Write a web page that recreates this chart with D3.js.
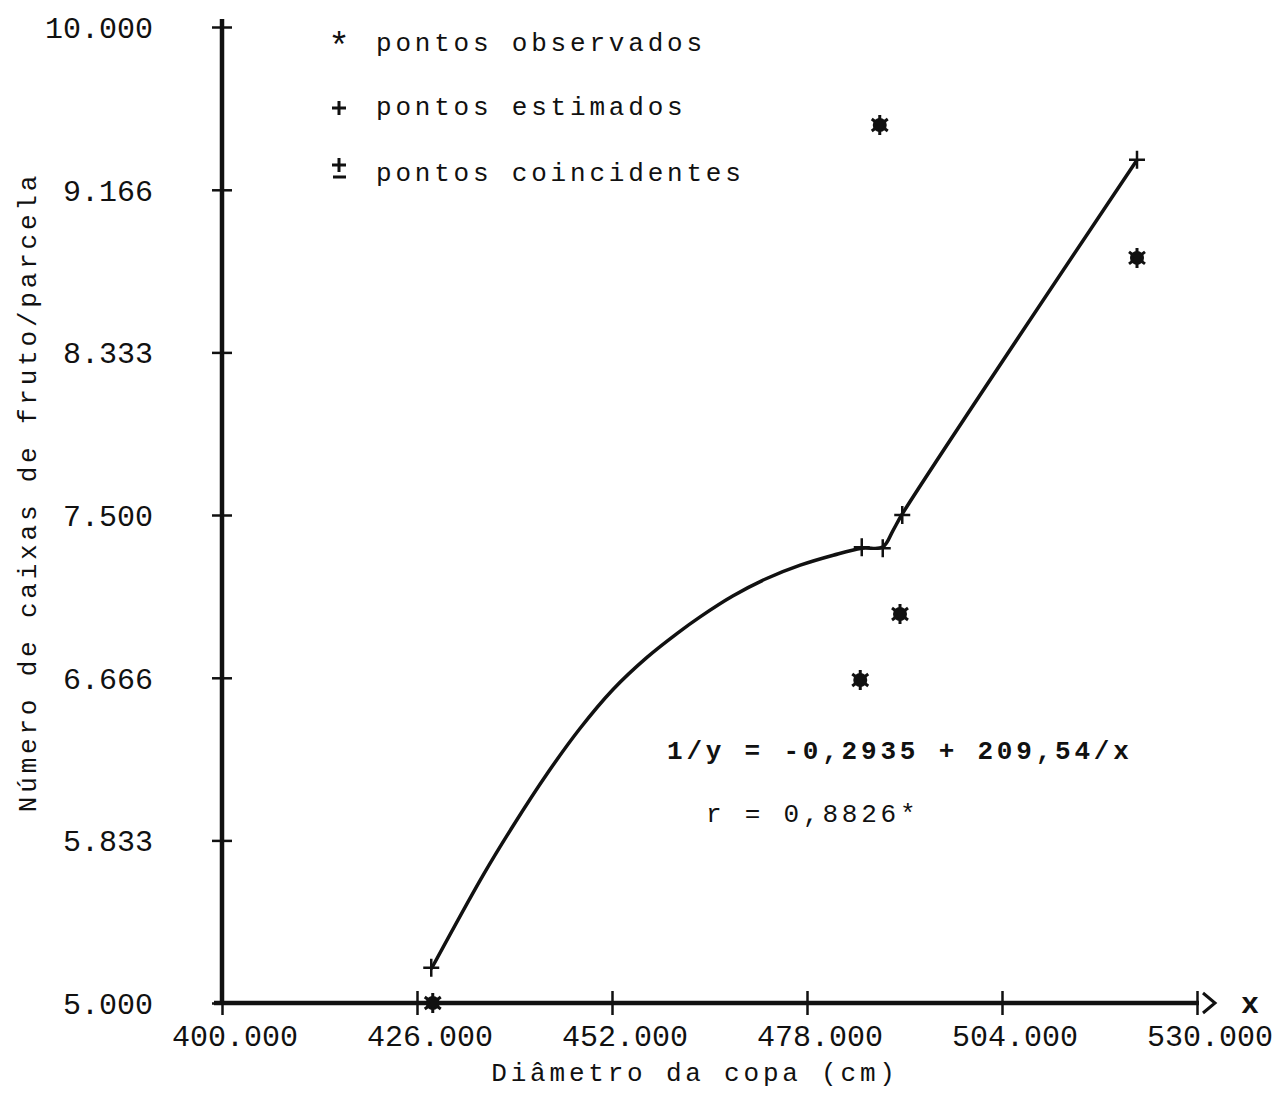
<!DOCTYPE html>
<html>
<head>
<meta charset="utf-8">
<script src="https://cdn.jsdelivr.net/npm/d3@7"></script>
<style>
  body { margin: 0; background: #fff; }
  text { fill: #111; }
  .tick-label { font-family: "Liberation Mono", monospace; font-size: 30px; }
  .type { font-family: "Liberation Mono", monospace; font-size: 26px; letter-spacing: 3.8px; }
</style>
</head>
<body>
<div id="chart"></div>
<script>
// tick values / labels
var xTicks = [400, 426, 452, 478, 504, 530];
var xTickLabels = ["400.000", "426.000", "452.000", "478.000", "504.000", "530.000"];
var yTicks = [5.000, 5.833, 6.666, 7.500, 8.333, 9.166, 10.000];
var yTickLabels = ["5.000", "5.833", "6.666", "7.500", "8.333", "9.166", "10.000"];

// pontos observados (*)
var obsX = [428.1, 485.1, 487.7, 490.4, 522.0];
var obsY = [5.000, 6.655, 9.498, 6.993, 8.817];

// pontos estimados (+)
var estX = [427.9, 485.3, 488.1, 490.7, 522.0];
var estY = [5.18, 7.335, 7.330, 7.500, 9.32];

// curve as drawn
var curveX = [427.9, 434.8, 438.8, 443.3, 447.7, 452.1, 456.7, 460.7, 463.7, 468.1, 472.7, 477.1, 481.5, 485.3, 488.1, 489.5, 490.7, 522.0];
var curveY = [5.174, 5.654, 5.907, 6.172, 6.405, 6.605, 6.772, 6.894, 6.977, 7.085, 7.176, 7.243, 7.294, 7.330, 7.336, 7.423, 7.505, 9.319];

var svgWidth = 1283;
var svgHeight = 1093;

var svg = d3.select("#chart")
  .append("svg")
  .attr("width", svgWidth)
  .attr("height", svgHeight);

var xScale = d3.scaleLinear().domain([400, 530]).range([222, 1197]);
var yScale = d3.scaleLinear().domain([5, 10]).range([1003, 27]);

// y axis
var yAxis = svg.append("g")
  .attr("transform", "translate(" + xScale(400) + ",0)")
  .call(d3.axisLeft(yScale).tickValues(yTicks).tickSize(0).tickFormat(""));
yAxis.select(".domain").attr("stroke", "#111").attr("stroke-width", 4.5)
  .attr("d", "M0," + (yScale(10) - 8) + "V" + yScale(5));

yAxis.selectAll(".tick").append("line")
  .attr("x1", -10).attr("x2", 10)
  .attr("stroke", "#111").attr("stroke-width", 2.5);

svg.append("g").selectAll("text")
  .data(yTicks)
  .enter()
  .append("text")
  .attr("class", "tick-label")
  .attr("x", 153)
  .attr("y", d => yScale(d))
  .attr("dy", "0.36em")
  .attr("text-anchor", "end")
  .text((d, i) => yTickLabels[i]);

// x axis
var xAxis = svg.append("g")
  .attr("transform", "translate(0," + yScale(5) + ")")
  .call(d3.axisBottom(xScale).tickValues(xTicks).tickSize(0).tickFormat(""));
xAxis.select(".domain").attr("stroke", "#111").attr("stroke-width", 4.5)
  .attr("d", "M" + (xScale(400) - 8) + ",0H" + (xScale(530) + 2));

xAxis.selectAll(".tick").append("line")
  .attr("y1", -12).attr("y2", 12)
  .attr("stroke", "#111").attr("stroke-width", 2.5);

// arrow head + "x"
svg.append("path")
  .attr("d", "M" + (xScale(530) + 6) + "," + (yScale(5) - 10) + "L" + (xScale(530) + 18) + "," + yScale(5) + "L" + (xScale(530) + 6) + "," + (yScale(5) + 10))
  .attr("fill", "none").attr("stroke", "#111").attr("stroke-width", 3);
svg.append("text")
  .attr("class", "tick-label")
  .attr("x", 1250).attr("y", yScale(5) + 10)
  .attr("text-anchor", "middle")
  .style("font-weight", "bold")
  .text("x");

svg.append("g").selectAll("text")
  .data(xTicks)
  .enter()
  .append("text")
  .attr("class", "tick-label")
  .attr("x", d => xScale(d) + 13)
  .attr("y", 1046)
  .attr("text-anchor", "middle")
  .text((d, i) => xTickLabels[i]);

// axis titles
svg.append("text")
  .attr("class", "type")
  .attr("x", 695).attr("y", 1081)
  .attr("text-anchor", "middle")
  .text("Diâmetro da copa (cm)");

svg.append("text")
  .attr("class", "type")
  .attr("transform", "translate(36,492) rotate(-90)")
  .attr("text-anchor", "middle")
  .text("Número de caixas de fruto/parcela");

// fitted curve
var line = d3.line()
  .x(d => xScale(d[0]))
  .y(d => yScale(d[1]))
  .curve(d3.curveCatmullRom.alpha(0.5));

svg.append("path")
  .datum(curveX.map((x, i) => [x, curveY[i]]))
  .attr("d", line)
  .attr("fill", "none")
  .attr("stroke", "#111")
  .attr("stroke-width", 3.5);

// estimated points (+)
svg.append("g").selectAll("path")
  .data(estX.map((x, i) => [x, estY[i]]))
  .enter()
  .append("path")
  .attr("transform", d => "translate(" + xScale(d[0]) + "," + yScale(d[1]) + ")")
  .attr("d", "M-8,0H8M0,-9V9")
  .attr("stroke", "#111")
  .attr("stroke-width", 2.5);

// observed points (*)
var obs = svg.append("g").selectAll("g")
  .data(obsX.map((x, i) => [x, obsY[i]]))
  .enter()
  .append("g")
  .attr("transform", d => "translate(" + xScale(d[0]) + "," + yScale(d[1]) + ")");
obs.append("circle").attr("r", 7).attr("fill", "#111");
obs.append("path")
  .attr("d", "M0,-10V10M-8,-6L8,6M-8,6L8,-6")
  .attr("stroke", "#111").attr("stroke-width", 3);

// legend
var legendText = ["pontos observados", "pontos estimados", "pontos coincidentes"];
var legendY = [42, 106, 172];

svg.append("g").selectAll("text")
  .data(legendText)
  .enter()
  .append("text")
  .attr("class", "type")
  .attr("x", 376)
  .attr("y", (d, i) => legendY[i])
  .attr("dy", "0.35em")
  .text(d => d);

svg.append("text")
  .attr("class", "type")
  .attr("x", 339).attr("y", legendY[0] + 16)
  .attr("text-anchor", "middle")
  .style("font-size", "36px")
  .style("letter-spacing", "0px")
  .text("*");
svg.append("path")
  .attr("d", "M332," + (legendY[1] + 2) + "H346M339," + (legendY[1] - 5) + "V" + (legendY[1] + 9))
  .attr("stroke", "#111").attr("stroke-width", 3);
svg.append("path")
  .attr("d", "M332," + (legendY[2] - 7) + "H346M339," + (legendY[2] - 14) + "V" + legendY[2] +
    "M333," + (legendY[2] + 5) + "H346")
  .attr("stroke", "#111").attr("stroke-width", 3);

// equation
svg.append("text")
  .attr("class", "type")
  .attr("x", 667).attr("y", 759)
  .style("font-weight", "bold")
  .text("1/y = -0,2935 + 209,54/x");

svg.append("text")
  .attr("class", "type")
  .attr("x", 706).attr("y", 822)
  .text("r = 0,8826*");
</script>
</body>
</html>
